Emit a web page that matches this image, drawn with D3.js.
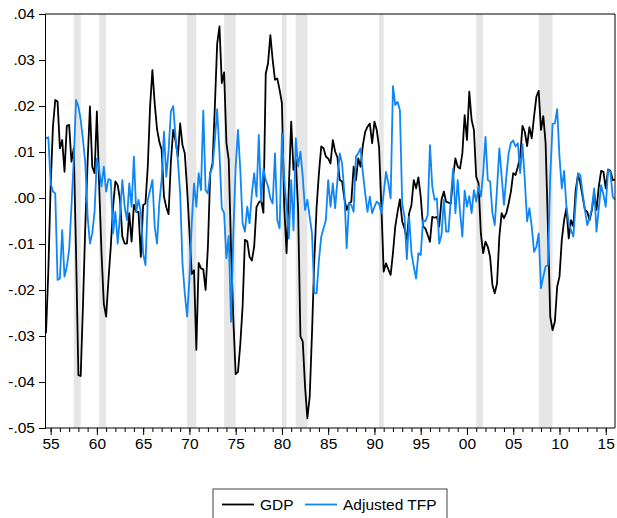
<!DOCTYPE html>
<html>
<head>
<meta charset="utf-8">
<script src="https://cdn.jsdelivr.net/npm/d3@7"></script>
<style>
  body { margin: 0; background: #fff; }
  text { font-family: "Liberation Sans", Arial, sans-serif; }
</style>
</head>
<body>
<div id="container"></div>
<script>
/* DATA */
// quarterly, first observation 1954Q3, last 2016Q1
const startQuarter = 1954.5

const gdp = [
  -0.0294, -0.016,
  0.0025, 0.0155, 0.0213, 0.021,
  0.0108, 0.0126, 0.0057, 0.0157,
  0.0159, 0.0079, 0.0108, -0.012,
  -0.0385, -0.0387, -0.023, -0.006,
  0.008, 0.0199, 0.0068, 0.0054,
  0.0188, 0.0025, -0.012, -0.023,
  -0.0258, -0.0178, -0.0106, -0.0019,
  0.0036, 0.0028, -0.0004, -0.0084,
  -0.0099, -0.0099, -0.0033, -0.0095,
  -0.0015, -0.003, -0.003, -0.0128,
  -0.0015, -0.0012, 0.0068, 0.0199,
  0.0278, 0.0205, 0.015, 0.0122,
  0.0105, 0.0003, -0.002, -0.0035,
  0.008, 0.0148, 0.0125, 0.009,
  0.0162, 0.0115, 0.0097, 0.002,
  -0.007, -0.0165, -0.0157, -0.033,
  -0.0141, -0.0153, -0.0155, -0.02,
  -0.0106, 0.0054, 0.0075, 0.0199,
  0.0335, 0.0373, 0.025, 0.0273,
  0.012, 0.0083, -0.011, -0.0265,
  -0.0383, -0.0378, -0.0318, -0.0236,
  -0.0091, -0.0094, -0.0128, -0.0136,
  -0.0106, -0.002, -0.001, -0.0005,
  -0.0032, 0.027, 0.0293, 0.0354,
  0.03, 0.0257, 0.026, 0.0235,
  0.0206, -0.0019, -0.012, 0.0025,
  0.0166, 0.0061, 0.0083, -0.0026,
  -0.0301, -0.0312, -0.041, -0.0479,
  -0.0432, -0.0294, -0.0135, -0.0019,
  0.0054, 0.0112, 0.0108, 0.009,
  0.0086, 0.0075, 0.0126, 0.0101,
  0.0088, 0.0039, 0.0036, -0.0001,
  -0.0026, -0.0012, -0.0008, 0.0068,
  0.0039, 0.0086, 0.0068, 0.0115,
  0.0144, 0.0155, 0.0162, 0.0119,
  0.0166, 0.0148, 0.011, -0.002,
  -0.016, -0.0142, -0.0155, -0.0167,
  -0.012, -0.0062, -0.003, -0.0003,
  -0.0051, -0.0066, -0.0091, -0.0033,
  -0.0015, 0.0039, 0.0021, 0.0045,
  0.0003, -0.0062, -0.0066, -0.008,
  -0.0095, -0.0041, -0.0043, -0.0041,
  -0.0062, -0.0004, 0.0014, -0.0008,
  -0.001, -0.0012, 0.0046, 0.0086,
  0.0068, 0.0064, 0.0097, 0.018,
  0.0126, 0.0231, 0.017, 0.0148,
  0.0046, 0.0032, -0.0077, -0.012,
  -0.0095, -0.0106, -0.0128, -0.0189,
  -0.0207, -0.0186, -0.0084, -0.0033,
  -0.0044, -0.0033, -0.0012, 0.0014,
  0.0054, 0.005, 0.0068, 0.009,
  0.0157, 0.0144, 0.0113, 0.0154,
  0.013, 0.0177, 0.022, 0.0233,
  0.0148, 0.0178, 0.0119, -0.0062,
  -0.0258, -0.0287, -0.0269, -0.0193,
  -0.0171, -0.0091, -0.0048, -0.0022,
  -0.0088, -0.0048, -0.0062, 0.0017,
  0.005, 0.0032, 0.0003, -0.0026,
  -0.003, -0.0048, -0.0026, 0.001,
  -0.0026, 0.0025, 0.0059, 0.0057,
  0.0021, 0.0062, 0.0059, 0.0039,
  0.004
]

const tfp = [
  0.013, 0.0132,
  0.0032, 0.0014, 0.001, -0.0178,
  -0.0175, -0.007, -0.0171, -0.0149,
  -0.0113, -0.0019, 0.0083, 0.0213,
  0.0199, 0.017, 0.0126, 0.0075,
  -0.0041, -0.0099, -0.0077, -0.003,
  0.0086, 0.0061, 0.0025, 0.0068,
  0.0014, 0.0041, 0.0039, -0.0077,
  -0.003, -0.0099, -0.0037, 0.0039,
  -0.0019, -0.0048, 0.0032, -0.0019,
  0.009, -0.003, -0.0004, -0.003,
  -0.012, -0.0146, -0.0004, 0.0017,
  0.0039, -0.0062, -0.0099, -0.001,
  0.004, 0.0144, 0.0046, 0.0104,
  0.0188, 0.02, 0.0133, 0.0083,
  0.001, -0.0142, -0.0207, -0.0258,
  -0.0178, -0.0055, 0.0032, -0.0019,
  0.0054, 0.0017, 0.019, 0.0017,
  0.001, 0.0054, 0.0068, 0.0126,
  0.0193, 0.0097, -0.0022, -0.0033,
  -0.0131, -0.0083, -0.0269, -0.0077,
  0.0068, 0.0148, 0.0061, -0.0055,
  -0.0073, -0.0019, -0.0055, 0.001,
  0.0054, 0.0003, 0.0137, -0.0008,
  0.0064, 0.0039, 0.0025, -0.0001,
  -0.0012, 0.0097, -0.0048, -0.0066,
  0.0141, 0.0039, -0.0019, -0.0088,
  0.0039, -0.007, 0.013, 0.0068,
  0.0101, 0.0046, -0.0026, -0.0004,
  -0.0041, -0.0077, -0.0207, -0.0207,
  -0.0135, -0.0084, -0.0066, -0.0048,
  0.0039, -0.0019, 0.0032, -0.0022,
  0.0039, 0.0097, 0.0075, 0.001,
  -0.0109, -0.0012, -0.0015, -0.003,
  0.009, 0.0097, 0.0108, 0.0054,
  0.001, -0.003, 0.0003, -0.0033,
  -0.0019, -0.0008, -0.0012, -0.0033,
  0.001, 0.0057, 0.0032, -0.0001,
  0.0243, 0.0202, 0.0209, 0.0191,
  -0.0012, -0.0041, -0.0133, -0.0041,
  -0.012, -0.0149, -0.0175, -0.012,
  -0.0124, -0.0048, -0.0051, -0.0037,
  0.0115, 0.0025, -0.0004, -0.0001,
  -0.0099, -0.008, -0.0004, -0.0073,
  -0.0073, -0.0004, 0.0064, -0.0033,
  0.0039, -0.003, -0.0084, 0.0016,
  -0.0019, 0.0004, -0.0033, 0.0017,
  -0.0008, 0.0025, 0.0003, 0.0054,
  0.0133, 0.0039, 0.0036, -0.0033,
  -0.0059, 0.0021, 0.0108, 0.0046,
  -0.0015, 0.0046, 0.0097, 0.012,
  0.0125, 0.0112, 0.0119, 0.0054,
  0.0117, 0.0039, -0.0051, -0.0022,
  -0.0062, -0.0117, -0.0106, -0.0077,
  -0.0196, -0.0171, -0.0149, -0.0146,
  0.0046, 0.0161, 0.0162, 0.0193,
  0.009, 0.0021, 0.0059, -0.0019,
  -0.0055, -0.007, -0.0084, -0.0008,
  0.0054, 0.005, 0.001, -0.0026,
  -0.0059, -0.0044, -0.0022, 0.0021,
  -0.0073, -0.0022, 0.0028, 0.0007,
  -0.0019, 0.0061, 0.0057, 0.0003,
  -0.0004
]

// NBER recessions, peak quarter to trough quarter
const recessions = [
  [1957.5, 1958.25], [1960.25, 1961.0], [1969.75, 1970.75],
  [1973.75, 1975.0], [1980.0, 1980.5], [1981.5, 1982.75],
  [1990.5, 1991.0], [2001.0, 2001.75], [2007.75, 2009.25]
]

const xTickYears = [1955, 1960, 1965, 1970, 1975, 1980, 1985, 1990, 1995, 2000, 2005, 2010, 2015]
const xTickLabels = ["55", "60", "65", "70", "75", "80", "85", "90", "95", "00", "05", "10", "15"]
const yTicks = [0.04, 0.03, 0.02, 0.01, 0, -0.01, -0.02, -0.03, -0.04, -0.05]
const yTickLabels = [".04", ".03", ".02", ".01", ".00", "-.01", "-.02", "-.03", "-.04", "-.05"]

const seriesNames = ["GDP", "Adjusted TFP"]
const seriesColors = ["#000000", "#0f86f5"]

/* CHART */
const width = 617, height = 518
const margin = { top: 14, right: 2, bottom: 90, left: 45 }

const svg = d3.select("#container")
  .append("svg")
  .attr("width", width)
  .attr("height", height)

const xScale = d3.scaleLinear()
  .domain([startQuarter, startQuarter + (gdp.length - 1) * 0.25])
  .range([margin.left + 1, width - margin.right])

const yScale = d3.scaleLinear()
  .domain([-0.05, 0.04])
  .range([height - margin.bottom, margin.top])

const gdpData = gdp.map((v, i) => ({ t: startQuarter + i * 0.25, v }))
const tfpData = tfp.map((v, i) => ({ t: startQuarter + i * 0.25, v }))

// recession shading
svg.append("g")
  .selectAll("rect")
  .data(recessions)
  .join("rect")
  .attr("x", d => xScale(d[0]))
  .attr("width", d => xScale(d[1]) - xScale(d[0]))
  .attr("y", margin.top)
  .attr("height", yScale(-0.05) - margin.top)
  .attr("fill", "#e6e6e6")

const line = d3.line()
  .x(d => xScale(d.t))
  .y(d => yScale(d.v))

svg.append("path")
  .datum(gdpData)
  .attr("fill", "none")
  .attr("stroke", seriesColors[0])
  .attr("stroke-width", 1.8)
  .attr("stroke-linejoin", "round")
  .attr("d", line)

svg.append("path")
  .datum(tfpData)
  .attr("fill", "none")
  .attr("stroke", seriesColors[1])
  .attr("stroke-width", 1.8)
  .attr("stroke-linejoin", "round")
  .attr("d", line)

// frame: top and right
const plotBottom = yScale(-0.05)
svg.append("path")
  .attr("d", `M${margin.left},${margin.top}H${width - margin.right}V${plotBottom}`)
  .attr("fill", "none")
  .attr("stroke", "#000")
  .attr("stroke-width", 1)

// y axis
const yAxis = d3.axisLeft(yScale)
  .tickValues(yTicks)
  .tickFormat((d, i) => yTickLabels[i])
  .tickSize(6)
  .tickPadding(4)

svg.append("g")
  .attr("transform", `translate(${margin.left},0)`)
  .call(yAxis)
  .call(g => g.select(".domain").attr("stroke", "#000"))
  .call(g => g.selectAll("text").attr("font-size", 15.5).attr("fill", "#000"))

// x axis, minor ticks every year
const minorYears = d3.range(1955, 2016)
svg.append("g")
  .attr("transform", `translate(0,${plotBottom})`)
  .call(d3.axisBottom(xScale).tickValues(minorYears).tickSize(4).tickFormat(""))
  .call(g => g.select(".domain").remove())

svg.append("g")
  .attr("transform", `translate(0,${plotBottom})`)
  .call(d3.axisBottom(xScale)
    .tickValues(xTickYears)
    .tickFormat((d, i) => xTickLabels[i])
    .tickSize(7)
    .tickPadding(3))
  .call(g => g.select(".domain").attr("d", `M${margin.left},0H${width - margin.right}`))
  .call(g => g.selectAll("text").attr("font-size", 15.5).attr("fill", "#000"))

// legend
const legend = svg.append("g").attr("transform", "translate(213,489)")
legend.append("rect")
  .attr("width", 234)
  .attr("height", 40)
  .attr("fill", "#fff")
  .attr("stroke", "#444")
  .attr("stroke-width", 1)

const legendX = [9, 92]
seriesNames.forEach((name, i) => {
  legend.append("line")
    .attr("x1", legendX[i]).attr("x2", legendX[i] + 32)
    .attr("y1", 15.5).attr("y2", 15.5)
    .attr("stroke", seriesColors[i])
    .attr("stroke-width", 1.8)
  legend.append("text")
    .attr("x", legendX[i] + 38)
    .attr("y", 21)
    .attr("font-size", 15.5)
    .text(name)
})
</script>
</body>
</html>
